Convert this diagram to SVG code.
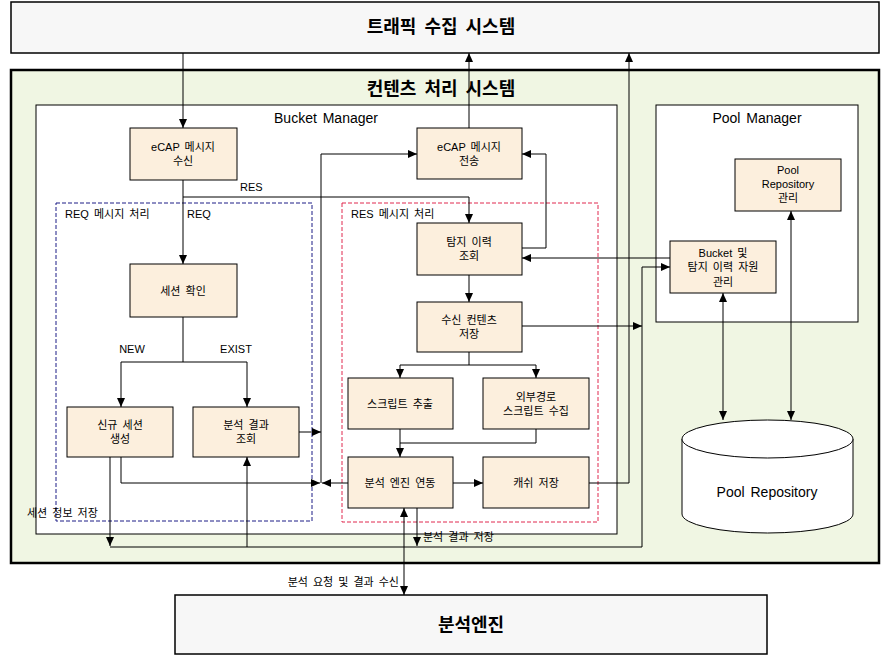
<svg xmlns="http://www.w3.org/2000/svg" width="881" height="655" viewBox="0 0 881 655">
<style>
text{font-family:"Liberation Sans","Noto Sans CJK KR",sans-serif;fill:#000;}
.t{font-size:11px;text-anchor:middle;word-spacing:2px;}
.l{font-size:11px;word-spacing:2px;}
.h{font-size:18px;font-weight:bold;text-anchor:middle;word-spacing:3px;}
.m{font-size:14px;text-anchor:middle;word-spacing:2px;}
.n{fill:#fcefdd;stroke:#000;stroke-width:1;}
.c path{fill:none;stroke:#000;stroke-width:1;}
.a{marker-end:url(#ar);}
.d{marker-start:url(#ar);marker-end:url(#ar);}
</style>
<defs>
<marker id="ar" markerUnits="userSpaceOnUse" markerWidth="9" markerHeight="8" refX="9" refY="4" orient="auto-start-reverse"><path d="M0,0 L9,4 L0,8 z" fill="#000"/></marker>
</defs>
<rect width="881" height="655" fill="#fff"/>
<g id="traffic">
<rect x="11" y="2" width="868" height="51" fill="#f7f7f7" stroke="#000" stroke-width="1.5"/>
<text class="h" x="441" y="33">트래픽 수집 시스템</text>
</g>
<g id="content-system">
<rect x="11" y="70" width="868" height="493" fill="#f0f6e3" stroke="#000" stroke-width="2.5"/>
<text class="h" x="441" y="95">컨텐츠 처리 시스템</text>
</g>
<g id="bucket-manager">
<rect x="36" y="105" width="581" height="429" fill="#fff" stroke="#000" stroke-width="1"/>
<text class="m" x="326" y="123">Bucket Manager</text>
</g>
<g id="pool-manager">
<rect x="656" y="105" width="202" height="217" fill="#fff" stroke="#000" stroke-width="1"/>
<text class="m" x="757" y="123">Pool Manager</text>
</g>
<g id="req-group">
<rect x="56" y="203" width="256" height="318" fill="none" stroke="#1c1c86" stroke-width="1" stroke-dasharray="4,2"/>
<text class="l" x="65" y="218">REQ 메시지 처리</text>
</g>
<g id="res-group">
<rect x="342" y="203" width="256" height="319" fill="none" stroke="#e0284e" stroke-width="1" stroke-dasharray="4,2"/>
<text class="l" x="351" y="218">RES 메시지 처리</text>
</g>
<g id="ecap-recv"><rect class="n" x="130" y="128" width="107" height="52"/><text class="t" x="183" y="151">eCAP 메시지</text><text class="t" x="183" y="165">수신</text></g>
<g id="session-check"><rect class="n" x="130" y="264" width="107" height="53"/><text class="t" x="183" y="295">세션 확인</text></g>
<g id="new-session"><rect class="n" x="67" y="407" width="106" height="50"/><text class="t" x="120" y="429">신규 세션</text><text class="t" x="120" y="443">생성</text></g>
<g id="result-lookup"><rect class="n" x="193" y="407" width="106" height="50"/><text class="t" x="246" y="429">분석 결과</text><text class="t" x="246" y="443">조회</text></g>
<g id="ecap-send"><rect class="n" x="417" y="128" width="105" height="51"/><text class="t" x="469" y="151">eCAP 메시지</text><text class="t" x="469" y="165">전송</text></g>
<g id="detect-lookup"><rect class="n" x="417" y="223" width="105" height="52"/><text class="t" x="469" y="246">탐지 이력</text><text class="t" x="469" y="260">조회</text></g>
<g id="content-save"><rect class="n" x="417" y="302" width="105" height="50"/><text class="t" x="469" y="324">수신 컨텐츠</text><text class="t" x="469" y="338">저장</text></g>
<g id="script-extract"><rect class="n" x="348" y="378" width="105" height="51"/><text class="t" x="400" y="408">스크립트 추출</text></g>
<g id="script-collect"><rect class="n" x="483" y="378" width="106" height="51"/><text class="t" x="536" y="401">외부경로</text><text class="t" x="536" y="415">스크립트 수집</text></g>
<g id="engine-link"><rect class="n" x="348" y="457" width="105" height="51"/><text class="t" x="400" y="487">분석 엔진 연동</text></g>
<g id="cache-save"><rect class="n" x="483" y="457" width="106" height="51"/><text class="t" x="536" y="487">캐쉬 저장</text></g>
<g id="pool-repo-mgmt"><rect class="n" x="735" y="159" width="106" height="52"/><text class="t" x="788" y="174">Pool</text><text class="t" x="788" y="188">Repository</text><text class="t" x="788" y="202">관리</text></g>
<g id="bucket-mgmt"><rect class="n" x="670" y="241" width="106" height="52"/><text class="t" x="723" y="257">Bucket 및</text><text class="t" x="723" y="271">탐지 이력 자원</text><text class="t" x="723" y="286">관리</text></g>
<g id="pool-repository">
<path d="M682 439 V514 A85.5 19 0 0 0 853 514 V439" fill="#fff" stroke="#000" stroke-width="1"/>
<ellipse cx="767.5" cy="439" rx="85.5" ry="19" fill="#fff" stroke="#000" stroke-width="1"/>
<text class="m" x="767" y="497">Pool Repository</text>
</g>
<g id="engine">
<rect x="175" y="595" width="592" height="59" fill="#f7f7f7" stroke="#000" stroke-width="1.5"/>
<text class="h" x="471" y="631">분석엔진</text>
</g>
<g class="c" id="connectors">
<path class="a" d="M183 53 V128"/>
<path class="a" d="M469 128 V53"/>
<path class="a" d="M589 483 H629 V53"/>
<path class="a" d="M183 180 V264"/>
<path class="a" d="M183 197 H469 V223"/>
<path class="a" d="M183 317 V362 H121 V407"/>
<path class="a" d="M183 362 H247 V407"/>
<path class="a" d="M299 432 H321"/>
<path class="a" d="M121 457 V483 H320"/>
<path class="a" d="M348 483 H322"/>
<path class="a" d="M321 483 V154 H417"/>
<path class="a" d="M522 248 H546 V154 H522"/>
<path class="a" d="M670 258 H522"/>
<path class="a" d="M469 275 V302"/>
<path class="a" d="M522 326 H642"/>
<path class="a" d="M110 457 V546"/>
<path class="a" d="M110 547 H642 V267 H670"/>
<path class="a" d="M247 547 V457"/>
<path class="a" d="M417 508 V546"/>
<path class="d" d="M404 508 V595"/>
<path class="a" d="M469 352 V365 H400 V378"/>
<path class="a" d="M469 365 H536 V378"/>
<path class="a" d="M400 429 V457"/>
<path d="M536 429 V443 H400"/>
<path class="a" d="M453 483 H483"/>
<path class="d" d="M723 293 V420"/>
<path class="d" d="M791 211 V420"/>
</g>
<g id="labels">
<text class="l" x="240" y="191">RES</text>
<text class="l" x="187" y="218">REQ</text>
<text class="t" x="132" y="353">NEW</text>
<text class="t" x="236" y="353">EXIST</text>
<text class="l" x="27" y="517">세션 정보 저장</text>
<text class="l" x="423" y="541">분석 결과 저장</text>
<text class="l" x="399" y="586" text-anchor="end">분석 요청 및 결과 수신</text>
</g>
</svg>
